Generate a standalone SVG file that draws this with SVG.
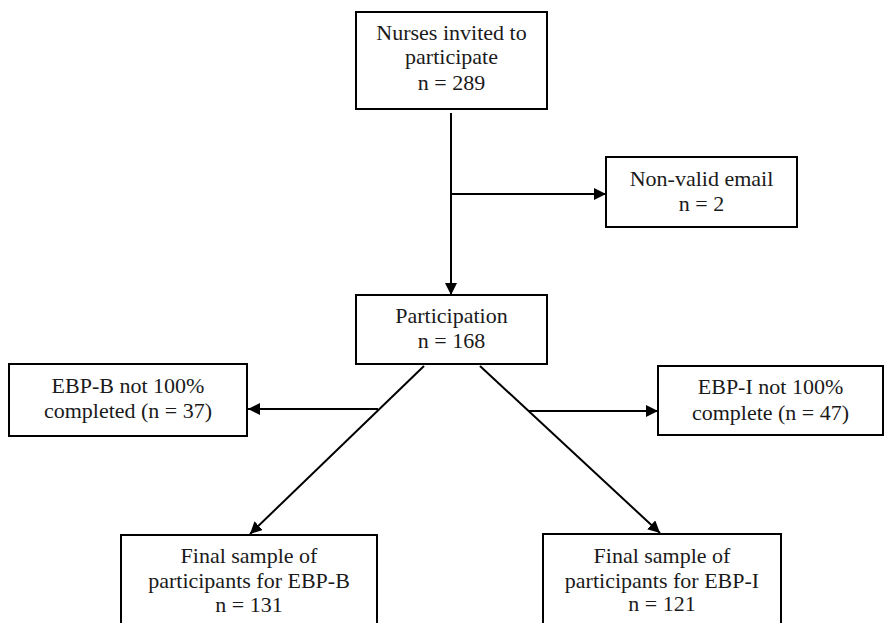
<svg xmlns="http://www.w3.org/2000/svg" width="885" height="623" viewBox="0 0 885 623">
<style>
  .box { fill: #ffffff; stroke: #000000; stroke-width: 2; }
  .lbl { font-family: "Liberation Serif", "Times New Roman", serif; font-size: 22px; fill: #1a1a1a; text-anchor: middle; }
  .conn { stroke: #000000; stroke-width: 2; fill: none; }
  .arr { marker-end: url(#ah); }
</style>
<defs>
  <marker id="ah" markerUnits="userSpaceOnUse" markerWidth="13" markerHeight="12" refX="12" refY="6" orient="auto">
    <path d="M0,0 L12,6 L0,12 Z" fill="#000000"/>
  </marker>
</defs>
<rect width="885" height="623" fill="#ffffff"/>
<g id="connectors">
  <line class="conn arr" x1="451" y1="113" x2="451" y2="295"/>
  <line class="conn arr" x1="452" y1="194" x2="606" y2="194"/>
  <line class="conn arr" x1="424" y1="366" x2="250" y2="534"/>
  <line class="conn arr" x1="378" y1="409" x2="248" y2="409"/>
  <line class="conn arr" x1="480" y1="366" x2="660" y2="533"/>
  <line class="conn arr" x1="529" y1="411" x2="658" y2="411"/>
</g>
<g id="node-invited">
  <rect class="box" x="356" y="12" width="191" height="97"/>
  <text class="lbl" x="451.5" y="40">Nurses invited to</text>
  <text class="lbl" x="451.5" y="64">participate</text>
  <text class="lbl" x="451.5" y="90">n = 289</text>
</g>
<g id="node-nonvalid">
  <rect class="box" x="606" y="157" width="191" height="70"/>
  <text class="lbl" x="701.5" y="186">Non-valid email</text>
  <text class="lbl" x="701.5" y="211">n = 2</text>
</g>
<g id="node-participation">
  <rect class="box" x="356" y="295" width="191" height="69"/>
  <text class="lbl" x="451.5" y="323">Participation</text>
  <text class="lbl" x="451.5" y="348">n = 168</text>
</g>
<g id="node-ebpb-incomplete">
  <rect class="box" x="9" y="364" width="238" height="72"/>
  <text class="lbl" x="128" y="393">EBP-B not 100%</text>
  <text class="lbl" x="128" y="418">completed (n = 37)</text>
</g>
<g id="node-ebpi-incomplete">
  <rect class="box" x="658" y="366" width="225" height="69"/>
  <text class="lbl" x="770.5" y="394">EBP-I not 100%</text>
  <text class="lbl" x="770.5" y="420">complete (n = 47)</text>
</g>
<g id="node-final-b">
  <rect class="box" x="121" y="535" width="256" height="100"/>
  <text class="lbl" x="249" y="563">Final sample of</text>
  <text class="lbl" x="249" y="588">participants for EBP-B</text>
  <text class="lbl" x="249" y="612">n = 131</text>
</g>
<g id="node-final-i">
  <rect class="box" x="543" y="534" width="238" height="100"/>
  <text class="lbl" x="662" y="563">Final sample of</text>
  <text class="lbl" x="662" y="588">participants for EBP-I</text>
  <text class="lbl" x="662" y="611">n = 121</text>
</g>
</svg>
